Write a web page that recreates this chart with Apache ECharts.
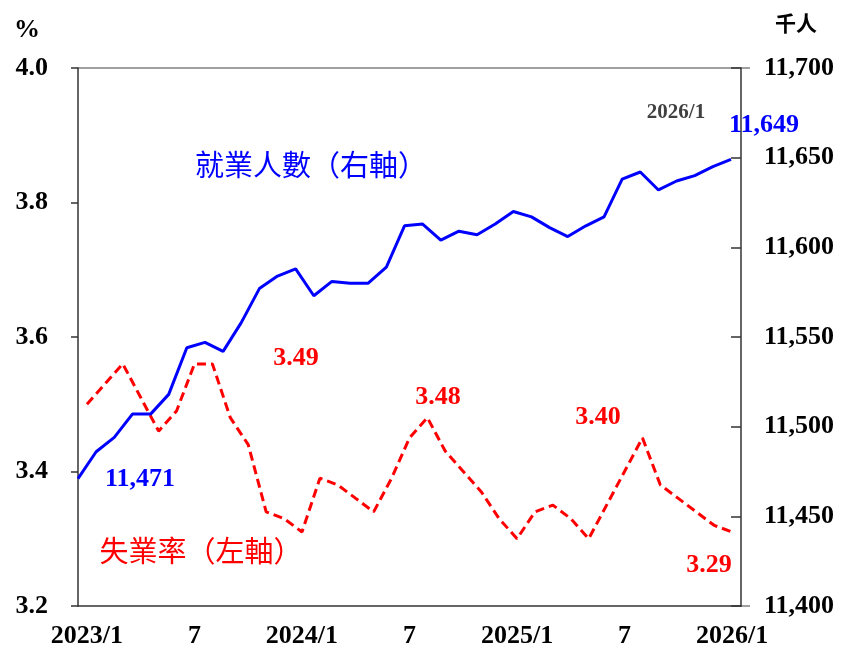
<!DOCTYPE html>
<html><head><meta charset="utf-8">
<script src="https://cdn.jsdelivr.net/npm/echarts@6/dist/echarts.min.js"></script>
<style>html,body{margin:0;padding:0;background:#fff}#c{width:841px;height:650px}</style>
</head><body><div id="c"></div>
<script>
const months = [
  '2023/1','2023/2','2023/3','2023/4','2023/5','2023/6','2023/7','2023/8','2023/9','2023/10','2023/11','2023/12',
  '2024/1','2024/2','2024/3','2024/4','2024/5','2024/6','2024/7','2024/8','2024/9','2024/10','2024/11','2024/12',
  '2025/1','2025/2','2025/3','2025/4','2025/5','2025/6','2025/7','2025/8','2025/9','2025/10','2025/11','2025/12',
  '2026/1'
];
const unemployment = [
  3.50,3.53,3.56,3.51,3.46,3.49,3.56,3.56,3.48,3.44,3.34,3.33,
  3.31,3.39,3.38,3.36,3.34,3.39,3.45,3.48,3.43,3.40,3.37,3.33,
  3.30,3.34,3.35,3.33,3.30,3.35,3.40,3.45,3.38,3.36,3.34,3.32,
  3.31
];
const employment = [
  11471,11486,11494,11507,11507,11518,11544,11547,11542,11558,11577,11584,
  11588,11573,11581,11580,11580,11589,11612,11613,11604,11609,11607,11613,
  11620,11617,11611,11606,11612,11617,11638,11642,11632,11637,11640,11645,
  11649
];
const annotations = [
  {text:'就業人數（右軸）', x:311, y:165, color:'#0000FF', cjk:true},
  {text:'失業率（左軸）', x:201, y:551, color:'#FF0000', cjk:true},
  {text:'11,471', x:140, y:479, color:'#0000FF'},
  {text:'11,649', x:764, y:125, color:'#0000FF'},
  {text:'2026/1', x:676, y:113, color:'#404040', small:true},
  {text:'3.49', x:296, y:358, color:'#FF0000'},
  {text:'3.48', x:438, y:397, color:'#FF0000'},
  {text:'3.40', x:598, y:417, color:'#FF0000'},
  {text:'3.29', x:709, y:565, color:'#FF0000'}
];

const serif = '"Liberation Serif","Times New Roman",serif';
const cjk = '"Noto Sans CJK TC","Noto Sans CJK SC",sans-serif';
const chart = echarts.init(document.getElementById('c'));

const graphics = annotations.map(a => ({
  type:'text', z:100,
  style:{
    text:a.text, x:a.x, y:a.y, align:'center', verticalAlign:'middle',
    fill:a.color,
    font: a.cjk ? ('normal 29px ' + cjk) : ('bold ' + (a.small ? 21 : 26) + 'px ' + serif)
  }
}));
graphics.push(
  {type:'text', style:{text:'%', x:27, y:30, align:'center', verticalAlign:'middle', fill:'#000', font:'bold 26px ' + serif}},
  {type:'text', style:{text:'千人', x:796, y:23, align:'center', verticalAlign:'middle', fill:'#000', font:'bold 21px ' + cjk}},
  {type:'line', shape:{x1:78, y1:68, x2:750, y2:68}, style:{stroke:'#808080', lineWidth:1.5}},
  {type:'line', shape:{x1:741, y1:606, x2:750, y2:606}, style:{stroke:'#808080', lineWidth:1.5}}
);

chart.setOption({
  backgroundColor:'#fff',
  animation:false,
  grid:[
    {left:78, right:100, top:68, bottom:44},
    {left:78, right:110, top:68, bottom:44}
  ],
  xAxis:[
    {
      type:'category', gridIndex:0, data:months, boundaryGap:true,
      axisLine:{lineStyle:{color:'#333', width:1.5}},
      axisTick:{interval:5, length:7, lineStyle:{color:'#333', width:1.5}},
      axisLabel:{
        interval:5, margin:17, color:'#000', fontSize:26, fontWeight:'bold', fontFamily:serif,
        formatter: v => v.endsWith('/1') ? v : v.split('/')[1]
      }
    },
    {type:'category', gridIndex:1, data:months, boundaryGap:false, show:false}
  ],
  yAxis:[
    {
      type:'value', gridIndex:0, position:'left', min:3.2, max:4.0, interval:0.2,
      axisLine:{show:true, lineStyle:{color:'#333', width:1.5}},
      axisTick:{show:true, length:7, lineStyle:{color:'#333', width:1.5}},
      splitLine:{show:false},
      axisLabel:{margin:30, color:'#000', fontSize:26, fontWeight:'bold', fontFamily:serif, formatter: v => v.toFixed(1)}
    },
    {
      type:'value', gridIndex:0, position:'right', min:11400, max:11700, interval:50,
      axisLine:{show:true, lineStyle:{color:'#333', width:1.5}},
      axisTick:{show:true, inside:true, length:10, lineStyle:{color:'#333', width:1.5}},
      splitLine:{show:false},
      axisLabel:{margin:23, color:'#000', fontSize:26, fontWeight:'bold', fontFamily:serif,
        formatter: v => v.toLocaleString('en-US')}
    },
    {type:'value', gridIndex:1, min:11400, max:11700, show:false, splitLine:{show:false}}
  ],
  series:[
    {
      name:'失業率', type:'line', xAxisIndex:0, yAxisIndex:0, data:unemployment,
      symbol:'none', z:3,
      lineStyle:{color:'#FF0000', width:3, type:[9,5]}
    },
    {
      name:'就業人數', type:'line', xAxisIndex:1, yAxisIndex:2, data:employment,
      symbol:'none', z:4,
      lineStyle:{color:'#0000FF', width:3}
    }
  ],
  graphic:graphics
});
</script>
</body></html>
